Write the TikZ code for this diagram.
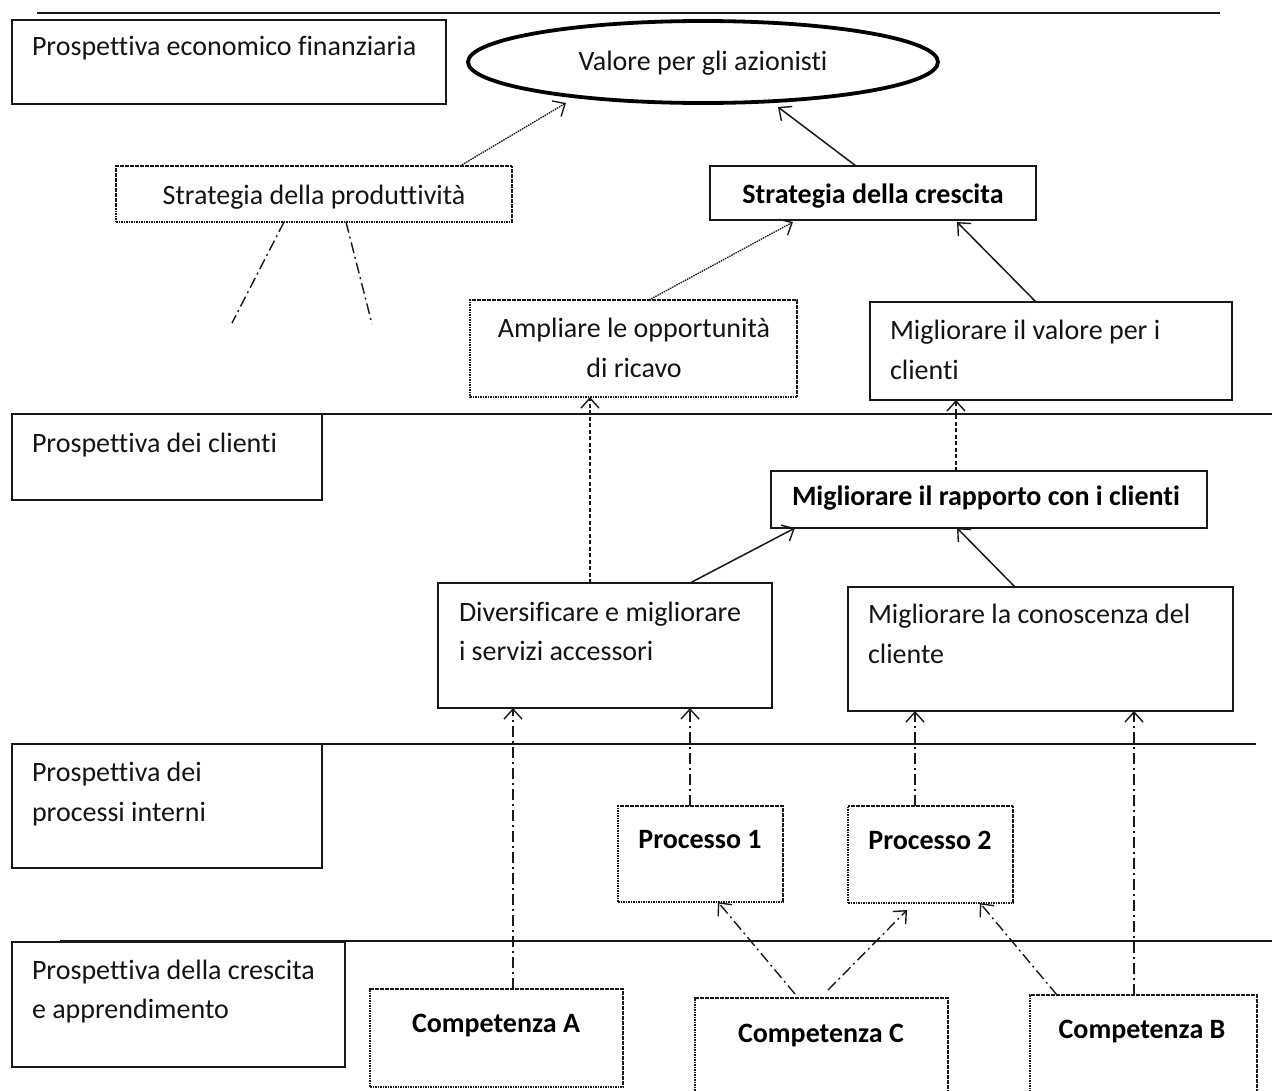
\documentclass[tikz,border=0pt]{standalone}
\usepackage{fontspec}
\setmainfont{Carlito}[Ligatures=NoCommon]
\usetikzlibrary{arrows.meta,shapes.geometric,fit,calc}

\begin{document}
\begin{tikzpicture}[x=1pt,y=-1pt,
  every node/.style={inner sep=0pt, outer sep=0pt},
  ink/.style={draw=black!90, line width=1.5pt},
  solidbox/.style={ink, rectangle},
  dotbox/.style={ink, rectangle, line width=1.3pt, dash pattern=on 1.6pt off 0.9pt},
  lbl/.style={font=\fontsize{28}{40}\selectfont, text=black!92},
  blbl/.style={font=\fontsize{28}{40}\selectfont\bfseries, text=black},
  tip/.style={-{Straight Barb[length=10pt,width=18pt,line width=1.4pt]}},
  solidarrow/.style={ink, tip},
  dotarrow/.style={ink, line width=1.3pt, dash pattern=on 1.5pt off 0.9pt, tip},
  dasharrow/.style={ink, line width=1.3pt, dash pattern=on 4pt off 2.5pt, tip},
  dotdash/.style={ink, line width=1.4pt, dash pattern=on 11pt off 4pt on 2pt off 4pt},
  ddarrow/.style={dotdash, tip},
  rule/.style={draw=black!90, line width=1.8pt}
]
\useasboundingbox (0,0) rectangle (1272,1090);
\fill[white] (0,0) rectangle (1272,1090);

% perspective separators
\draw[rule, line width=2.6pt] (37,13) -- (1220,13);
\draw[rule] (12,414) -- (1272,414);
\draw[rule] (12,744) -- (1256,744);
\draw[rule] (60,941) -- (1272,941);

% perspective labels
\node[solidbox, fit={(12,20) (446,104)}] (eco) {};
\node[solidbox, fit={(12,414) (322,500)}] (cli) {};
\node[solidbox, fit={(12,744) (322,868)}] (proc) {};
\node[solidbox, fit={(12,942) (345,1067)}] (app) {};

% objectives
\node[ellipse, draw=black, line width=3.8pt, minimum width=470pt, minimum height=82pt] (val) at (703,62) {};
\node[dotbox, fit={(116,166) (512,222)}] (prod) {};
\node[solidbox, fit={(710,166) (1036,220)}] (cres) {};
\node[dotbox, fit={(470,300) (797,397)}] (ampl) {};
\node[solidbox, fit={(870,302) (1232,400)}] (valc) {};
\node[solidbox, fit={(771,471) (1207,528)}] (rap) {};
\node[solidbox, fit={(438,583) (772,708)}] (div) {};
\node[solidbox, fit={(848,587) (1233,711)}] (con) {};
\node[dotbox, fit={(618,806) (783,902)}] (p1) {};
\node[dotbox, fit={(848,806) (1013,903)}] (p2) {};
\node[dotbox, fit={(370,989) (623,1087)}] (compA) {};
\node[dotbox, fit={(695,998) (948,1096)}] (compC) {};
\node[dotbox, fit={(1030,995) (1257,1096)}] (compB) {};

% texts
\node[lbl, anchor=base west] (t-eco) at (32,55) {Prospettiva economico finanziaria};
\node[lbl, anchor=base] (t-val) at (703,70) {Valore per gli azionisti};
\node[lbl, anchor=base] (t-prod) at (314,204) {Strategia della produttività};
\node[blbl, anchor=base] (t-cres) at (873,203) {Strategia della crescita};
\node[lbl, anchor=base] (t-ampl1) at (634,337) {Ampliare le opportunità};
\node[lbl, anchor=base] (t-ampl2) at (634,377) {di ricavo};
\node[lbl, anchor=base west] (t-valc1) at (890,339) {Migliorare il valore per i};
\node[lbl, anchor=base west] (t-valc2) at (890,379) {clienti};
\node[lbl, anchor=base west] (t-cli) at (32,452) {Prospettiva dei clienti};
\node[blbl, anchor=base west] (t-rap) at (792,505) {Migliorare il rapporto con i clienti};
\node[lbl, anchor=base west] (t-div1) at (459,621) {Diversificare e migliorare};
\node[lbl, anchor=base west] (t-div2) at (459,660) {i servizi accessori};
\node[lbl, anchor=base west] (t-con1) at (868,623) {Migliorare la conoscenza del};
\node[lbl, anchor=base west] (t-con2) at (868,663) {cliente};
\node[lbl, anchor=base west] (t-proc1) at (32,781) {Prospettiva dei};
\node[lbl, anchor=base west] (t-proc2) at (32,821) {processi interni};
\node[blbl, anchor=base] (t-p1) at (700,848) {Processo 1};
\node[blbl, anchor=base] (t-p2) at (930,849) {Processo 2};
\node[lbl, anchor=base west] (t-app1) at (32,979) {Prospettiva della crescita};
\node[lbl, anchor=base west] (t-app2) at (32,1018) {e apprendimento};
\node[blbl, anchor=base] (t-cA) at (496,1032) {Competenza A};
\node[blbl, anchor=base] (t-cC) at (821,1042) {Competenza C};
\node[blbl, anchor=base] (t-cB) at (1142,1038) {Competenza B};

% links to shareholder value
\draw[dotarrow] ($(prod.north west)+(344,0)$) -- ($(val.center)+(-137,41)$);
\draw[solidarrow] ($(cres.north west)+(146,0)$) -- ($(val.center)+(75,45)$);

% growth strategy
\draw[dotarrow] ($(ampl.north west)+(179,0)$) -- ($(cres.south west)+(83,2)$);
\draw[solidarrow] ($(valc.north west)+(166,0)$) -- ($(cres.south west)+(247,2)$);

% productivity strategy stubs
\coordinate (stubL) at (232,323);
\coordinate (stubR) at (372,324);
\draw[dotdash] ($(prod.south west)+(168,0)$) -- (stubL);
\draw[dotdash] ($(prod.south west)+(230,0)$) -- (stubR);

% customer perspective
\draw[dasharrow] ($(div.north west)+(152,0)$) -- ($(ampl.south west)+(120,0)$);
\draw[dasharrow] ($(rap.north west)+(185,0)$) -- ($(valc.south west)+(86,0)$);
\draw[solidarrow] ($(div.north west)+(252,0)$) -- ($(rap.south west)+(24,0)$);
\draw[solidarrow] ($(con.north west)+(167,0)$) -- ($(rap.south west)+(186,0)$);

% internal processes
\draw[ddarrow] ($(compA.north west)+(143,0)$) -- ($(div.south west)+(75,0)$);
\draw[ddarrow] ($(p1.north west)+(72,0)$) -- ($(div.south west)+(252,0)$);
\draw[ddarrow] ($(p2.north west)+(67,0)$) -- ($(con.south west)+(67,0)$);
\draw[ddarrow] ($(compB.north west)+(104,0)$) -- ($(con.south west)+(286,0)$);

% learning and growth
\draw[ddarrow] ($(compC.north west)+(100,-4)$) -- ($(p1.south west)+(100,0)$);
\draw[ddarrow] ($(compC.north west)+(133,-8)$) -- ($(p2.south west)+(59,7)$);
\draw[ddarrow] ($(compB.north west)+(27,0)$) -- ($(p2.south west)+(132,0)$);
\end{tikzpicture}
\end{document}
